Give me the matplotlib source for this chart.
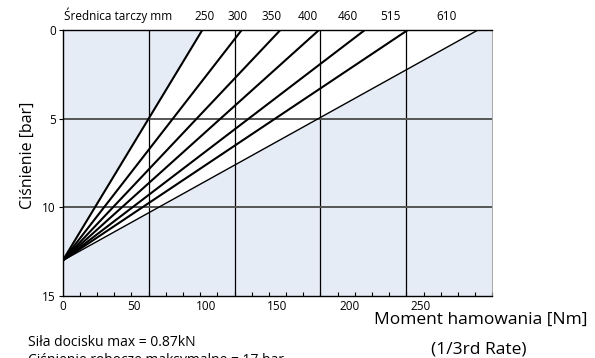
import matplotlib
matplotlib.use("Agg")
import matplotlib.pyplot as plt
import numpy as np

plt.rcParams['font.family'] = ['Open Sans', 'DejaVu Sans']

# disc diameters [mm] and torque at 0 bar end of each line [Nm]
diameters = ['250', '300', '350', '400', '460', '515', '610']
torque_top = [97.5, 125, 152, 179, 211, 241, 290]
label_x = [99, 122, 146, 171, 199, 228.5, 268]  # where the diameter labels sit
p_start = 13.0  # all lines start at (0, 13 bar)
x_ticks = [0, 50, 100, 150, 200, 250]
y_ticks = [0, 5, 10, 15]
v_grid = [60, 120, 180, 240]
h_grid = [5, 10]

fig = plt.figure(figsize=(5.95, 3.58), dpi=100)
ax = fig.add_axes([0.1054, 0.1732, 0.7220, 0.7430])
bg = '#e6ecf5'
ax.set_facecolor(bg)

ax.set_xlim(0, 300)
ax.set_ylim(15, 0)

# white fan between first and last line
ax.fill([0, torque_top[0], torque_top[-1]], [p_start, 0, 0], color='white', zorder=1, lw=0)

for v in v_grid:
    ax.axvline(v, color='black', lw=0.9, zorder=2)
for h in h_grid:
    ax.axhline(h, color='#555555', lw=1.4, zorder=2)

for i, t in enumerate(torque_top):
    lw = 1.0 if i == len(torque_top) - 1 else 1.5
    ax.plot([0, t], [p_start, 0], color='black', lw=lw, zorder=3, solid_capstyle='butt')

for lab, lx in zip(diameters, label_x):
    ax.text(lx, -0.4, lab, ha='center', va='bottom', fontsize=8.5)
ax.text(39, -0.4, 'Średnica tarczy mm', ha='center', va='bottom', fontsize=8.5)

ax.set_xticks(x_ticks)
ax.set_xticklabels([str(v) for v in x_ticks], fontsize=8.5)
ax.tick_params(axis='x', which='major', length=0, pad=3)
ax.set_xticks(np.arange(12, 301, 12), minor=True)
ax.tick_params(axis='x', which='minor', direction='in', length=3, width=0.8)

ax.set_yticks(y_ticks)
ax.set_yticklabels([str(v) for v in y_ticks], fontsize=8.5)
ax.tick_params(axis='y', which='major', direction='out', length=3, width=0.8, pad=2)

fig.text(28 / 595, 1 - 155 / 358, 'Ciśnienie [bar]', rotation=90, ha='center', va='center', fontsize=11.5)

for s in ['left', 'bottom', 'top']:
    ax.spines[s].set_color('black')
    ax.spines[s].set_linewidth(1.0)
ax.spines['right'].set_color('#999999')
ax.spines['right'].set_linewidth(0.6)

fig.text(481 / 595, 1 - 320 / 358, 'Moment hamowania [Nm]', ha='center', va='center', fontsize=12.5)
fig.text(479 / 595, 1 - 349 / 358, '(1/3rd Rate)', ha='center', va='center', fontsize=12.5)
fig.text(28 / 595, 1 - 342 / 358, 'Siła docisku max = 0.87kN', ha='left', va='center', fontsize=10)
fig.text(28 / 595, 1 - 353 / 358, 'Ciśnienie robocze maksymalne = 17 bar', ha='left', va='top', fontsize=10)

fig.savefig('out.png', dpi=100)
